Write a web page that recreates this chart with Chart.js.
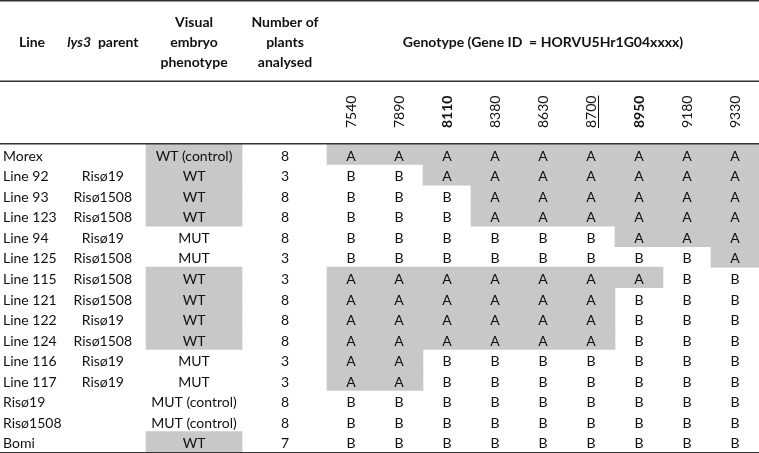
<!DOCTYPE html>
<html>
<head>
<meta charset="utf-8">
<script src="https://cdn.jsdelivr.net/npm/chart.js@4/dist/chart.umd.min.js"></script>
<style>
  html, body { margin: 0; padding: 0; background: #fff; }
  #wrap { width: 759px; height: 453px; position: relative; }
</style>
</head>
<body>
<div id="wrap"><canvas id="tablaChart"></canvas></div>
<script>
// datos de la tabla
var lineas = ['Morex', 'Line 92', 'Line 93', 'Line 123', 'Line 94', 'Line 125', 'Line 115', 'Line 121',
              'Line 122', 'Line 124', 'Line 116', 'Line 117', 'Risø19', 'Risø1508', 'Bomi'];
var padres = ['', 'Risø19', 'Risø1508', 'Risø1508', 'Risø19', 'Risø1508', 'Risø1508', 'Risø1508',
              'Risø19', 'Risø1508', 'Risø19', 'Risø19', '', '', ''];
var fenotipos = ['WT (control)', 'WT', 'WT', 'WT', 'MUT', 'MUT', 'WT', 'WT',
                 'WT', 'WT', 'MUT', 'MUT', 'MUT (control)', 'MUT (control)', 'WT'];
var plantas = [8, 3, 8, 8, 8, 3, 3, 8, 8, 8, 3, 3, 8, 8, 7];
var genes = ['7540', '7890', '8110', '8380', '8630', '8700', '8950', '9180', '9330'];
var genesNegrita = ['8110', '8950'];
var genesSubrayado = ['8700'];
var genotipos = ['AAAAAAAAA', 'BBAAAAAAA', 'BBBAAAAAA', 'BBBAAAAAA', 'BBBBBBAAA', 'BBBBBBBBA', 'AAAAAAABB',
                 'AAAAAABBB', 'AAAAAABBB', 'AAAAAABBB', 'AABBBBBBB', 'AABBBBBBB', 'BBBBBBBBB', 'BBBBBBBBB', 'BBBBBBBBB'];

// columnas a la izquierda, en unidades de columna de genotipo
var colLinea = -6.75, colPadre = -4.67, colFeno = -2.77, colPlantas = -0.875;
var fenoIni = -3.77, fenoFin = -1.77;

var gris = '#c8c8c8';
var tinta = '#111111';
var fuente = 'Lato, "Liberation Sans", sans-serif';

// celdas grises: tramo de A en cada fila
var tramosA = genotipos.map(function (g) {
  var ini = g.indexOf('A');
  if (ini < 0) return null;
  return [ini, g.lastIndexOf('A') + 1];
});
var tramosFeno = fenotipos.map(function (f) {
  return f.indexOf('WT') === 0 ? [fenoIni, fenoFin] : null;
});

var textoPlugin = {
  id: 'textoTabla',
  afterDatasetsDraw: function (chart) {
    var ctx = chart.ctx;
    var x = chart.scales.x, y = chart.scales.y;
    var area = chart.chartArea;
    ctx.save();
    ctx.fillStyle = tinta;
    ctx.textBaseline = 'middle';

    // filas
    ctx.font = '14px ' + fuente;
    for (var i = 0; i < lineas.length; i++) {
      var py = y.getPixelForValue(i) + 2;
      ctx.textAlign = 'left';
      ctx.fillText(lineas[i], x.getPixelForValue(colLinea), py);
      ctx.textAlign = 'center';
      if (padres[i]) ctx.fillText(padres[i], x.getPixelForValue(colPadre), py);
      ctx.fillText(fenotipos[i], x.getPixelForValue(colFeno), py);
      ctx.fillText(String(plantas[i]), x.getPixelForValue(colPlantas), py);
      for (var j = 0; j < genes.length; j++) {
        ctx.fillText(genotipos[i].charAt(j), x.getPixelForValue(j + 0.5), py);
      }
    }

    // encabezado
    ctx.font = 'bold 14px ' + fuente;
    ctx.textAlign = 'center';
    ctx.fillText('Line', x.getPixelForValue(colLinea) + 29, 42);
    ctx.font = 'italic bold 14px ' + fuente;
    var pxPadre = x.getPixelForValue(colPadre);
    var w1 = ctx.measureText('lys3').width;
    ctx.font = 'bold 14px ' + fuente;
    var w2 = ctx.measureText('  parent').width;
    var ini = pxPadre - (w1 + w2) / 2;
    ctx.textAlign = 'left';
    ctx.font = 'italic bold 14px ' + fuente;
    ctx.fillText('lys3', ini, 42);
    ctx.font = 'bold 14px ' + fuente;
    ctx.fillText('  parent', ini + w1, 42);
    ctx.textAlign = 'center';
    var pf = x.getPixelForValue(colFeno), pp = x.getPixelForValue(colPlantas);
    ctx.fillText('Visual', pf, 22);
    ctx.fillText('embryo', pf, 42);
    ctx.fillText('phenotype', pf, 62);
    ctx.fillText('Number of', pp, 22);
    ctx.fillText('plants', pp, 42);
    ctx.fillText('analysed', pp, 62);
    ctx.fillText('Genotype (Gene ID  = HORVU5Hr1G04xxxx)', x.getPixelForValue(genes.length / 2), 42);

    // IDs de genes, girados
    for (var k = 0; k < genes.length; k++) {
      var gx = x.getPixelForValue(k + 0.5);
      var negrita = genesNegrita.indexOf(genes[k]) >= 0;
      ctx.save();
      ctx.translate(gx, 128);
      ctx.rotate(-Math.PI / 2);
      ctx.font = (negrita ? 'bold ' : '') + '14px ' + fuente;
      ctx.textAlign = 'left';
      ctx.fillText(genes[k], 0, 0);
      if (genesSubrayado.indexOf(genes[k]) >= 0) {
        var wg = ctx.measureText(genes[k]).width;
        ctx.fillRect(0, 7, wg, 1);
      }
      ctx.restore();
    }

    // reglas horizontales
    ctx.fillStyle = '#333';
    ctx.fillRect(area.left, 0, area.right - area.left, 1.5);
    ctx.fillRect(area.left, 80.5, area.right - area.left, 1.5);
    ctx.fillRect(area.left, area.top - 1, area.right - area.left, 1.5);
    ctx.fillRect(area.left, area.bottom, area.right - area.left, 1.5);
    ctx.restore();
  }
};

var tablaData = {
  labels: lineas,
  datasets: [
    { label: 'Genotipo A', data: tramosA, backgroundColor: gris, borderWidth: 0,
      barPercentage: 1, categoryPercentage: 1, grouped: false },
    { label: 'Fenotipo WT', data: tramosFeno, backgroundColor: gris, borderWidth: 0,
      barPercentage: 1, categoryPercentage: 1, grouped: false }
  ]
};

var tablaOptions = {
  indexAxis: 'y',
  responsive: true,
  maintainAspectRatio: false,
  animation: false,
  events: [],
  layout: { padding: { top: 144, bottom: 1, left: 0, right: 0 } },
  plugins: { legend: { display: false }, tooltip: { enabled: false } },
  scales: {
    x: { type: 'linear', min: -327 / 48, max: 9, display: false },
    y: { type: 'category', display: false, offset: true }
  }
};

var ctx1 = document.getElementById('tablaChart').getContext('2d');
new Chart(ctx1, { type: 'bar', data: tablaData, options: tablaOptions, plugins: [textoPlugin] });
</script>
</body>
</html>
